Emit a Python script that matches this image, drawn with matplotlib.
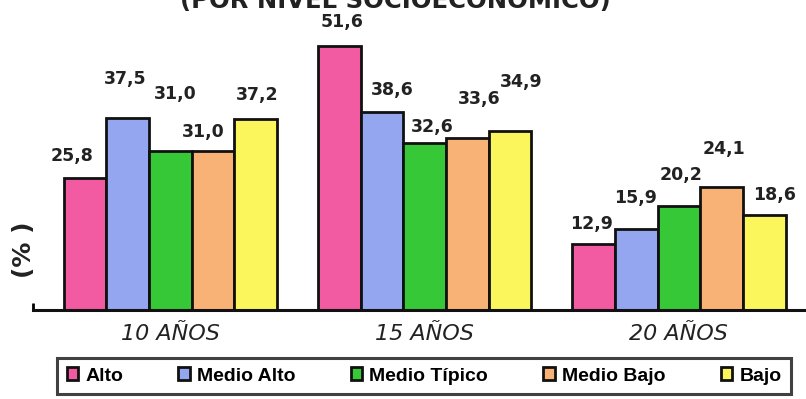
import matplotlib
matplotlib.use("Agg")
import matplotlib.pyplot as plt
import numpy as np

categories = ["10 AÑOS", "15 AÑOS", "20 AÑOS"]
series_names = ["Alto", "Medio Alto", "Medio Típico", "Medio Bajo", "Bajo"]
alto = [25.8, 51.6, 12.9]
medio_alto = [37.5, 38.6, 15.9]
medio_tipico = [31.0, 32.6, 20.2]
medio_bajo = [31.0, 33.6, 24.1]
bajo = [37.2, 34.9, 18.6]
value_labels = [["25,8", "51,6", "12,9"],
                ["37,5", "38,6", "15,9"],
                ["31,0", "32,6", "20,2"],
                ["31,0", "33,6", "24,1"],
                ["37,2", "34,9", "18,6"]]

series = [alto, medio_alto, medio_tipico, medio_bajo, bajo]
colors = ["#F25AA2", "#94A6F0", "#36C836", "#F8B276", "#FAF65C"]
# label offsets (pixels) relative to bar top centre
offsets = [[(-13, 22), (3, 24), (-2, 20)],
           [(-2, 39), (10, 22), (-1, 31)],
           [(5, 57), (8, 16), (2, 31)],
           [(-10, 19), (12, 39), (2, 38)],
           [(1, 24), (11, 49), (10, 20)]]

W, H = 806, 399
fig = plt.figure(figsize=(W / 100, H / 100), dpi=100)
ax = fig.add_axes([33 / W, 89 / H, 1 - 33 / W, 310 / H])

x = np.arange(len(categories))
bw = 0.168
for i, (vals, col) in enumerate(zip(series, colors)):
    pos = x + (i - 2) * bw
    ax.bar(pos, vals, width=bw, color=col, edgecolor="#111111", linewidth=2,
           label=series_names[i], zorder=2)
    for j, v in enumerate(vals):
        ax.annotate(value_labels[i][j], xy=(pos[j], v), xytext=offsets[i][j],
                    textcoords="offset pixels", ha="center", va="center",
                    fontsize=12.5, fontweight="bold", color="#222222")

ax.set_xlim(-0.54, 2.50)
ax.set_ylim(0, 60.5)
for s in ["top", "right", "left"]:
    ax.spines[s].set_visible(False)
ax.spines["bottom"].set_linewidth(2.2)
ax.spines["bottom"].set_color("#111111")
ax.set_yticks([])
ax.set_xticks(x)
ax.set_xticklabels(categories, fontsize=16, fontstyle="italic", color="#222222")
ax.tick_params(axis="x", length=0, pad=10)
ax.set_xticks([-0.54], minor=True)
ax.tick_params(axis="x", which="minor", length=5, width=2, direction="in")

fig.text(24 / W, 1 - 250 / H, "(% )", rotation=90, fontsize=18, fontweight="bold",
         ha="center", va="center", color="#222222")

fig.text(395 / W, 1 - 8 / H, "(POR NIVEL SOCIOECONÓMICO)", fontsize=17.5,
         fontweight="bold", ha="center", va="baseline", color="#222222")

leg = fig.legend(loc="center", bbox_to_anchor=(424 / W, 1 - 376 / H), ncol=5,
                 frameon=True, fancybox=False, edgecolor="#111111",
                 prop={"family": "Liberation Sans", "weight": "bold", "size": 14},
                 handlelength=0.6, handleheight=0.6, handletextpad=0.35,
                 columnspacing=2.85, borderpad=0.5, borderaxespad=0)
leg.get_frame().set_linewidth(2.2)

fig.savefig("out.png", dpi=100)
